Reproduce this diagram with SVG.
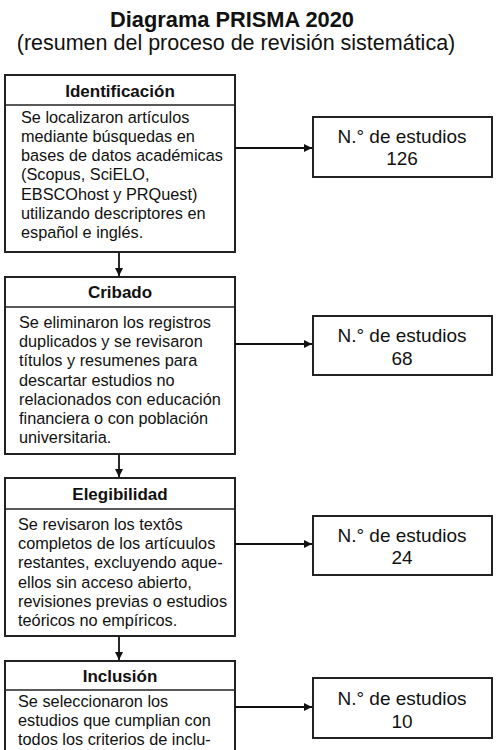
<svg xmlns="http://www.w3.org/2000/svg" width="500" height="750" viewBox="0 0 500 750">
<style>
.box{fill:#fff;stroke:#222;stroke-width:2}
.sep{stroke:#222;stroke-width:1.6}
.hdr{font-family:"Liberation Sans",Arial,sans-serif;font-weight:bold;font-size:17px;fill:#111;text-anchor:middle}
.body{font-family:"Liberation Sans",Arial,sans-serif;font-size:16.3px;fill:#111}
.cnt{font-family:"Liberation Sans",Arial,sans-serif;font-size:19px;fill:#111;text-anchor:middle}
.conn{stroke:#111;stroke-width:1.8;fill:none;marker-end:url(#ah)}
</style>
<defs>
<marker id="ah" viewBox="0 0 10 10" refX="10" refY="5" markerWidth="8" markerHeight="8" markerUnits="userSpaceOnUse" orient="auto">
<path d="M0,0 L10,5 L0,10 z" fill="#111"/>
</marker>
</defs>
<rect x="0" y="0" width="500" height="750" fill="#fff"/>
<g id="title">
<text x="232" y="27" font-family="Liberation Sans, Arial, sans-serif" font-weight="bold" font-size="21.8" fill="#111" text-anchor="middle">Diagrama PRISMA 2020</text>
<text x="236" y="50" font-family="Liberation Sans, Arial, sans-serif" font-size="21.5" fill="#111" text-anchor="middle">(resumen del proceso de revisión sistemática)</text>
</g>
<g id="identificacion">
<rect class="box" x="5" y="75" width="230" height="177"/>
<line class="sep" x1="5" y1="105" x2="235" y2="105"/>
<text class="hdr" x="120" y="97">Identificación</text>
<text class="body" x="21" y="123">Se localizaron artículos</text>
<text class="body" x="21" y="142">mediante búsquedas en</text>
<text class="body" x="21" y="161">bases de datos académicas</text>
<text class="body" x="21" y="180">(Scopus, SciELO,</text>
<text class="body" x="21" y="200">EBSCOhost y PRQuest)</text>
<text class="body" x="21" y="219">utilizando descriptores en</text>
<text class="body" x="21" y="238">español e inglés.</text>
</g>
<g id="cribado">
<rect class="box" x="5" y="277" width="230" height="177"/>
<line class="sep" x1="5" y1="307" x2="235" y2="307"/>
<text class="hdr" x="120" y="298">Cribado</text>
<text class="body" x="19" y="328">Se eliminaron los registros</text>
<text class="body" x="19" y="347">duplicados y se revisaron</text>
<text class="body" x="19" y="366">títulos y resumenes para</text>
<text class="body" x="19" y="386">descartar estudios no</text>
<text class="body" x="19" y="405">relacionados con educación</text>
<text class="body" x="19" y="424">financiera o con población</text>
<text class="body" x="19" y="443">universitaria.</text>
</g>
<g id="elegibilidad">
<rect class="box" x="5" y="478" width="230" height="158"/>
<line class="sep" x1="5" y1="509" x2="235" y2="509"/>
<text class="hdr" x="120" y="500">Elegibilidad</text>
<text class="body" x="18" y="530">Se revisaron los textôs</text>
<text class="body" x="18" y="549">completos de los artícuulos</text>
<text class="body" x="18" y="568">restantes, excluyendo aque-</text>
<text class="body" x="18" y="588">ellos sin acceso abierto,</text>
<text class="body" x="18" y="607">revisiones previas o estudios</text>
<text class="body" x="18" y="626">teóricos no empíricos.</text>
</g>
<g id="inclusion">
<rect class="box" x="5" y="661" width="230" height="120"/>
<line class="sep" x1="5" y1="690" x2="235" y2="690"/>
<text class="hdr" x="120" y="682">Inclusión</text>
<text class="body" x="18" y="707">Se seleccionaron los</text>
<text class="body" x="18" y="726">estudios que cumplian con</text>
<text class="body" x="18" y="745">todos los criterios de inclu-</text>
</g>
<g id="n1">
<rect class="box" x="313" y="117" width="179" height="60"/>
<text class="cnt" x="402" y="143">N.° de estudios</text>
<text class="cnt" x="402" y="165">126</text>
</g>
<g id="n2">
<rect class="box" x="313" y="316" width="179" height="59"/>
<text class="cnt" x="402" y="342">N.° de estudios</text>
<text class="cnt" x="402" y="365">68</text>
</g>
<g id="n3">
<rect class="box" x="313" y="516" width="179" height="59"/>
<text class="cnt" x="402" y="542">N.° de estudios</text>
<text class="cnt" x="402" y="564">24</text>
</g>
<g id="n4">
<rect class="box" x="313" y="678" width="179" height="60"/>
<text class="cnt" x="402" y="705">N.° de estudios</text>
<text class="cnt" x="402" y="728">10</text>
</g>
<g id="connectors">
<line class="conn" x1="119" y1="253" x2="119" y2="276"/>
<line class="conn" x1="119" y1="455" x2="119" y2="477"/>
<line class="conn" x1="119" y1="637" x2="119" y2="660"/>
<line class="conn" x1="235" y1="148" x2="312" y2="148"/>
<line class="conn" x1="235" y1="344" x2="312" y2="344"/>
<line class="conn" x1="235" y1="544" x2="312" y2="544"/>
<line class="conn" x1="235" y1="707" x2="312" y2="707"/>
</g>
</svg>
